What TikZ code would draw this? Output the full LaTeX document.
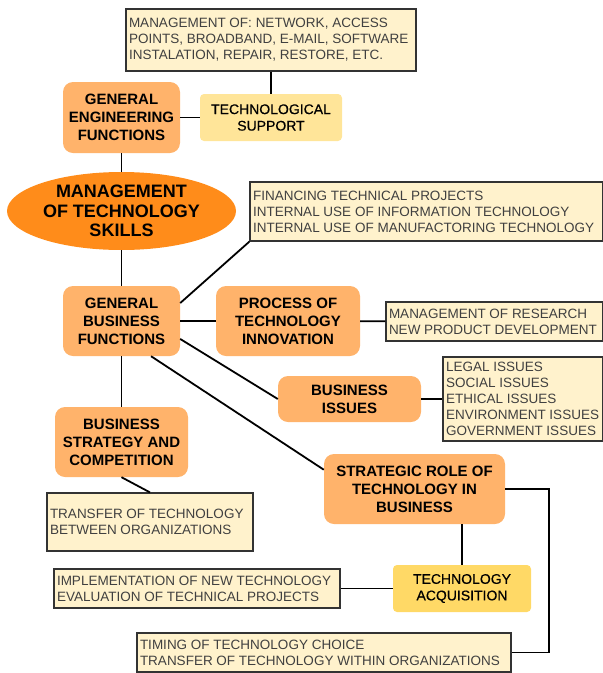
\documentclass[tikz,border=0pt]{standalone}
\usepackage{fontspec}
\setmainfont{Liberation Sans}
\newfontfamily\semibold[FakeBold=0.5]{Liberation Sans}
\usetikzlibrary{shapes.geometric}
\definecolor{skillorange}{HTML}{FF8C1A}
\definecolor{funcorange}{HTML}{FFB36B}
\definecolor{supyellow}{HTML}{FFE599}
\definecolor{acqyellow}{HTML}{FFD966}
\definecolor{notecream}{HTML}{FFF2CC}
\definecolor{noteline}{HTML}{333333}
\definecolor{notetext}{HTML}{404040}
\tikzset{
  mainskill/.style={ellipse, fill=skillorange, inner sep=0pt, align=center,
    font=\fontsize{18}{19.5}\selectfont\bfseries},
  funcbox/.style={rounded corners=10pt, fill=funcorange, inner sep=0pt, align=center,
    font=\fontsize{15}{18}\selectfont\bfseries},
  supbox/.style={rounded corners=4pt, inner sep=0pt, align=center,
    font=\semibold\fontsize{14}{16.5}\selectfont},
  notebox/.style={draw=noteline, line width=1.2pt, fill=notecream, inner xsep=3pt,
    inner ysep=2pt, align=flush left, text=notetext,
    font=\fontsize{13.5}{16}\selectfont},
  link/.style={line width=1.8pt}
}
\begin{document}
\begin{tikzpicture}[x=1pt, y=-1pt]
    \useasboundingbox (0,0) rectangle (603,673);
    % Nodo central
    \node[mainskill, minimum width=229pt, minimum height=78pt] (mots) at (121.5,211)
        {MANAGEMENT\\OF TECHNOLOGY\\SKILLS};
    % Funciones
    \node[funcbox, minimum width=117pt, minimum height=71pt] (gef) at (121.5,117.5)
        {GENERAL\\ENGINEERING\\FUNCTIONS};
    \node[funcbox, minimum width=117pt, minimum height=70pt] (gbf) at (121.5,321)
        {GENERAL\\BUSINESS\\FUNCTIONS};
    \node[funcbox, minimum width=144pt, minimum height=70pt] (pti) at (288,321)
        {PROCESS OF\\TECHNOLOGY\\INNOVATION};
    \node[funcbox, minimum width=143pt, minimum height=46pt] (bi) at (349.5,399)
        {BUSINESS\\ISSUES};
    \node[funcbox, minimum width=133pt, minimum height=70pt] (bsc) at (121.5,442)
        {BUSINESS\\STRATEGY AND\\COMPETITION};
    \node[funcbox, minimum width=181pt, minimum height=70pt] (srt) at (414.5,489)
        {STRATEGIC ROLE OF\\TECHNOLOGY IN\\BUSINESS};
    % Apoyo y adquisicion
    \node[supbox, fill=supyellow, minimum width=142pt, minimum height=47pt] (tsup) at (271,117.5)
        {TECHNOLOGICAL\\SUPPORT};
    \node[supbox, fill=acqyellow, minimum width=138pt, minimum height=47pt] (ta) at (462,588.5)
        {TECHNOLOGY\\ACQUISITION};
    % Notas
    \node[notebox, text width=284pt, minimum height=62pt] (top) at (271,40)
        {MANAGEMENT OF: NETWORK, ACCESS\\POINTS, BROADBAND, E-MAIL, SOFTWARE\\INSTALATION, REPAIR, RESTORE, ETC.};
    \node[notebox, text width=347pt, minimum height=59pt] (fin) at (426.5,211.5)
        {FINANCING TECHNICAL PROJECTS\\INTERNAL USE OF INFORMATION TECHNOLOGY\\INTERNAL USE OF MANUFACTORING TECHNOLOGY};
    \node[notebox, text width=211pt, minimum height=39pt] (mor) at (494.5,321.5)
        {MANAGEMENT OF RESEARCH\\NEW PRODUCT DEVELOPMENT};
    \node[notebox, text width=154pt, minimum height=84pt] (iss) at (523,399)
        {LEGAL ISSUES\\SOCIAL ISSUES\\ETHICAL ISSUES\\ENVIRONMENT ISSUES\\GOVERNMENT ISSUES};
    \node[notebox, text width=200pt, minimum height=58pt] (tra) at (150,522)
        {TRANSFER OF TECHNOLOGY\\BETWEEN ORGANIZATIONS};
    \node[notebox, text width=280pt, minimum height=39pt] (imp) at (197,588.5)
        {IMPLEMENTATION OF NEW TECHNOLOGY\\EVALUATION OF TECHNICAL PROJECTS};
    \node[notebox, text width=368pt, minimum height=39pt] (tim) at (324,652.5)
        {TIMING OF TECHNOLOGY CHOICE\\TRANSFER OF TECHNOLOGY WITHIN ORGANIZATIONS};
    % Conexiones
    \draw[link] (top) -- (tsup);
    \draw[link] (gef) -- (tsup);
    \draw[link] (gef) -- (mots);
    \draw[link] (mots) -- (gbf);
    \draw[link] (gbf.17) -- (fin.south west);
    \draw[link] (gbf) -- (pti);
    \draw[link] (pti) -- (mor);
    \draw[link] (gbf.-17) -- (bi.west);
    \draw[link] (bi) -- (iss);
    \draw[link] (gbf) -- (bsc);
    \draw[link] (bsc.south) -- (tra.north);
    \draw[link] (gbf.-50) -- (srt.168);
    \draw[link] (srt.south -| ta.north) -- (ta.north);
    \draw[link] (imp) -- (ta);
    \draw[link] (srt.east) -- ++(44,0) |- (tim.east);
\end{tikzpicture}
\end{document}
